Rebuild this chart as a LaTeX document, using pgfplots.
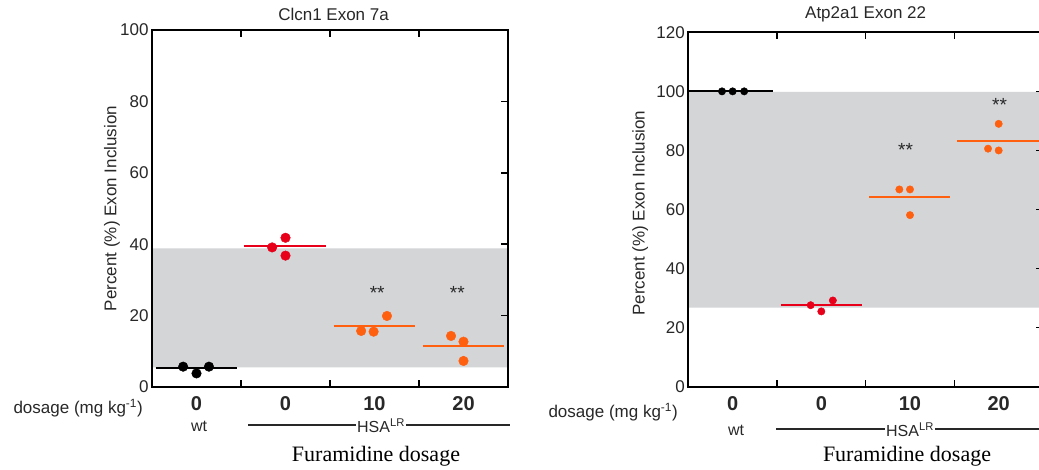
\documentclass[border=0pt]{standalone}
\usepackage{pgfplots}
\pgfplotsset{compat=1.18}
\usepackage{fontspec}
\setmainfont{Liberation Sans}
\newfontfamily\serifont{Liberation Serif}
\definecolor{ptred}{RGB}{232,0,26}
\definecolor{ptorange}{RGB}{255,96,16}
\definecolor{band}{RGB}{211,213,215}
\definecolor{txt}{RGB}{40,40,40}
\newcommand{\fs}[1]{\fontsize{#1}{#1}\selectfont}
\pgfplotsset{
  myax/.style={
    scale only axis, anchor=south west,
    xmin=-0.5, xmax=3.5,
    /pgf/number format/assume math mode=true,
    axis line style={line width=1.8pt},
    tick align=inside,
    major tick length=7pt,
    tick style={line width=1.6pt, black},
    xtick={0.5,1.5,2.5}, xticklabels={},
    extra x ticks={0,1,2,3}, extra x tick labels={0,0,10,20},
    extra x tick style={major tick length=0pt},
    ytick pos=right, yticklabel pos=left,
    xticklabel style={font=\bfseries\fs{20}, text=txt, yshift=-6pt},
    yticklabel style={font=\fs{17}, text=txt},
    ylabel style={font=\fs{17}, text=txt},
    title style={font=\fs{17}, text=txt},
    axis on top,
    clip=false,
  }
}
\begin{document}
\begin{tikzpicture}
\useasboundingbox (0pt,0pt) rectangle (1039pt,469pt);
\clip (0pt,0pt) rectangle (1039pt,469pt);
\fill[white] (0pt,0pt) rectangle (1039pt,469pt);
% ---------- left panel ----------
\begin{axis}[myax, at={(152pt,82pt)}, width=356pt, height=357pt,
  ymin=0, ymax=100, ytick={0,20,40,60,80,100},
  ylabel={Percent (\%) Exon Inclusion},
  ylabel style={at={(axis description cs:0,0.5)}, anchor=center, yshift=40pt},
  title={Clcn1 Exon 7a},
  title style={at={(axis description cs:0.51,1)}, anchor=center, yshift=10pt}]
\addplot[fill=band, draw=none] coordinates {(-0.5,5.5) (3.5,5.5) (3.5,38.8) (-0.5,38.8) (-0.5,5.5)};
\addplot[black, line width=2pt] coordinates {(-0.46,5.2) (0.45,5.2)};
\addplot[ptred, line width=2pt] coordinates {(0.53,39.4) (1.45,39.4)};
\addplot[ptorange, line width=2pt] coordinates {(1.54,17.1) (2.45,17.1)};
\addplot[ptorange, line width=2pt] coordinates {(2.54,11.5) (3.45,11.5)};
\addplot[only marks, mark=*, mark size=4.8pt, black] coordinates {(-0.15,5.7) (0,3.8) (0.14,5.7)};
\addplot[only marks, mark=*, mark size=4.8pt, ptred] coordinates {(0.85,39.1) (1.0,41.8) (1.0,36.8)};
\addplot[only marks, mark=*, mark size=4.8pt, ptorange] coordinates {(1.85,15.7) (1.99,15.5) (2.14,19.9)};
\addplot[only marks, mark=*, mark size=4.8pt, ptorange] coordinates {(2.86,14.3) (3.0,12.7) (3.0,7.3)};
\node[font=\fs{19}, text=txt] at (axis cs:2.03,26.3) {**};
\node[font=\fs{19}, text=txt] at (axis cs:2.93,26.3) {**};
\end{axis}
% ---------- right panel ----------
\begin{axis}[myax, at={(688.3pt,82.3pt)}, width=354.7pt, height=354.4pt,
  ymin=0, ymax=120, ytick={0,20,40,60,80,100,120},
  ylabel={Percent (\%) Exon Inclusion},
  ylabel style={at={(axis description cs:0,0.49)}, anchor=center, yshift=48pt},
  title={Atp2a1 Exon 22},
  title style={at={(axis description cs:0.5,1)}, anchor=center, yshift=12pt}]
\addplot[fill=band, draw=none] coordinates {(-0.5,26.8) (3.5,26.8) (3.5,99.8) (-0.5,99.8) (-0.5,26.8)};
\addplot[black, line width=2pt] coordinates {(-0.5,100) (0.46,100)};
\addplot[ptred, line width=2pt] coordinates {(0.55,27.8) (1.46,27.8)};
\addplot[ptorange, line width=2pt] coordinates {(1.54,64.2) (2.45,64.2)};
\addplot[ptorange, line width=2pt] coordinates {(2.53,83.3) (3.5,83.3)};
\addplot[only marks, mark=*, mark size=3.7pt, black] coordinates {(-0.12,100) (0.0,100) (0.13,100)};
\addplot[only marks, mark=*, mark size=3.7pt, ptred] coordinates {(0.88,27.6) (1.0,25.5) (1.13,29.2)};
\addplot[only marks, mark=*, mark size=3.7pt, ptorange] coordinates {(1.88,66.8) (2.0,66.8) (2.0,58.1)};
\addplot[only marks, mark=*, mark size=3.7pt, ptorange] coordinates {(2.88,80.6) (3.0,89.0) (3.0,80.0)};
\node[font=\fs{19}, text=txt] at (axis cs:1.95,80.3) {**};
\node[font=\fs{19}, text=txt] at (axis cs:3.01,95.3) {**};
\end{axis}
% ---------- annotations below ----------
\node[font=\fs{17}, text=txt, anchor=west] at (10pt,61pt) {dosage (mg kg\textsuperscript{-1})};
\node[font=\fs{16}, text=txt] at (199pt,43pt) {wt};
\draw[txt, line width=1.2pt] (248pt,44pt) -- (510pt,44pt);
\node[font=\fs{16}, text=txt, fill=white, inner sep=1pt] at (381pt,43pt) {HSA\textsuperscript{LR}};
\node[font=\serifont\fs{22}] at (376pt,13pt) {Furamidine dosage};
\node[font=\fs{17}, text=txt, anchor=west] at (545pt,57pt) {dosage (mg kg\textsuperscript{-1})};
\node[font=\fs{16}, text=txt] at (736pt,39pt) {wt};
\draw[txt, line width=1.2pt] (776pt,40pt) -- (1039pt,40pt);
\node[font=\fs{16}, text=txt, fill=white, inner sep=1pt] at (910pt,39pt) {HSA\textsuperscript{LR}};
\node[font=\serifont\fs{22}] at (907pt,13pt) {Furamidine dosage};
\end{tikzpicture}
\end{document}
